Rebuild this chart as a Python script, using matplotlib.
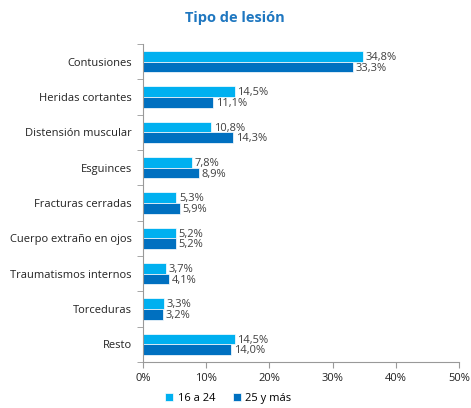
import numpy as np
import matplotlib.pyplot as plt

categorias = ["Contusiones", "Heridas cortantes", "Distensión muscular", "Esguinces",
              "Fracturas cerradas", "Cuerpo extraño en ojos", "Traumatismos internos",
              "Torceduras", "Resto"]
joven = [34.8, 14.5, 10.8, 7.8, 5.3, 5.2, 3.7, 3.3, 14.5]
mayor = [33.3, 11.1, 14.3, 8.9, 5.9, 5.2, 4.1, 3.2, 14.0]
ticks_x = [0, 10, 20, 30, 40, 50]

c_claro = "#00B0F0"
c_oscuro = "#0070C0"
gris = "#404040"

plt.rcParams['font.family'] = ['Open Sans', 'DejaVu Sans']

fig = plt.figure(figsize=(4.71, 4.08), dpi=100)
ax = fig.add_axes([0.3036, 0.1127, 0.671, 0.7793])

y = np.arange(len(categorias))
h = 0.3
ax.barh(y - h / 2, joven, height=h, color=c_claro, edgecolor="white", linewidth=0.5, label="16 a 24")
ax.barh(y + h / 2, mayor, height=h, color=c_oscuro, edgecolor="white", linewidth=0.5, label="25 y más")

for i in range(len(categorias)):
    ax.text(joven[i] + 0.4, y[i] - h / 2 + 0.03, f"{joven[i]:.1f}%".replace(".", ","),
            va="center", ha="left", fontsize=8, color=gris)
    ax.text(mayor[i] + 0.4, y[i] + h / 2 + 0.03, f"{mayor[i]:.1f}%".replace(".", ","),
            va="center", ha="left", fontsize=8, color=gris)

ax.set_ylim(len(categorias) - 0.5, -0.5)
ax.set_xlim(0, 50)
ax.set_yticks(y)
ax.set_yticklabels(categorias, fontsize=8, color="#222222")
ax.set_yticks(np.arange(-0.5, len(categorias), 1), minor=True)
ax.tick_params(axis="y", which="major", length=0, pad=8)
ax.tick_params(axis="y", which="minor", length=4, color="#999999", direction="out")
ax.set_xticks(ticks_x)
ax.set_xticklabels([f"{t}%" for t in ticks_x], fontsize=8, color="#222222")
ax.tick_params(axis="x", length=4, color="#999999", pad=4)

for s in ["top", "right"]:
    ax.spines[s].set_visible(False)
ax.spines["left"].set_color("#999999")
ax.spines["bottom"].set_color("#999999")

fig.text(0.393, 0.955, "Tipo de lesión", fontsize=10.5, fontweight="bold",
         color="#1F77C0", ha="left", va="center")

fig.legend(loc="lower left", bbox_to_anchor=(0.33, -0.015), ncol=2, frameon=False,
           fontsize=8, handlelength=0.7, handleheight=0.7, columnspacing=1.6,
           handletextpad=0.4)

fig.savefig("out.png", dpi=100)
